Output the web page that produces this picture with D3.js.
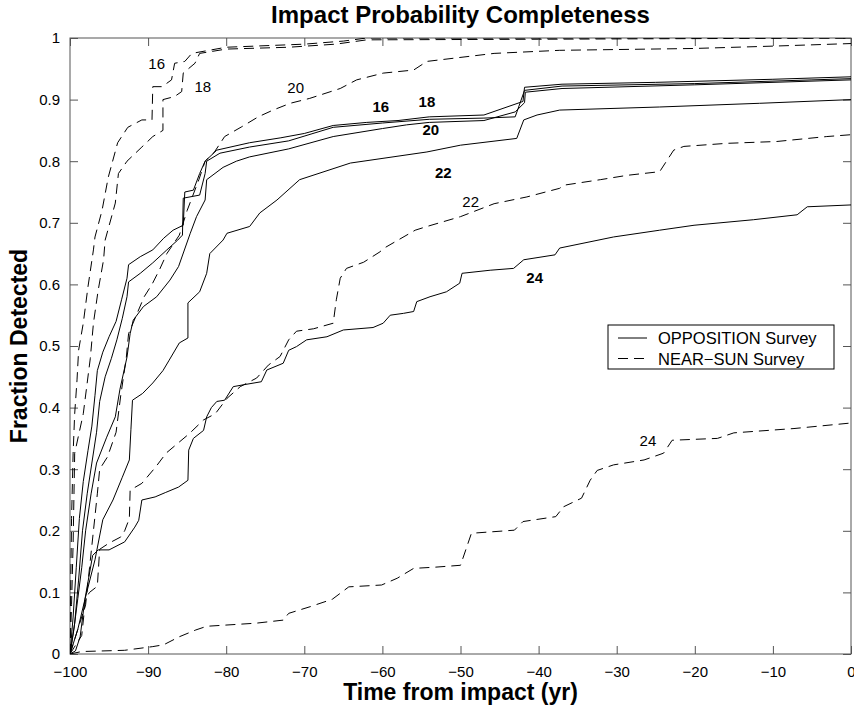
<!DOCTYPE html>
<html>
<head>
<meta charset="utf-8">
<script src="https://cdn.jsdelivr.net/npm/d3@7"></script>
<style>
  body { margin: 0; background: #fff; }
  svg { display: block; font-family: "Liberation Sans", Arial, Helvetica, sans-serif; }
</style>
</head>
<body>
<svg id="chart"></svg>
<script>
// ticks
let xTicks = [-100, -90, -80, -70, -60, -50, -40, -30, -20, -10, 0];
let yTicks = [0, 0.1, 0.2, 0.3, 0.4, 0.5, 0.6, 0.7, 0.8, 0.9, 1];

// OPPOSITION survey, [years before impact, fraction detected]
let opp16 = [[-100,0],[-99.6,0.06],[-99.2,0.14],[-98.8,0.22],[-98.3,0.28],[-97.7,0.33],[-97.2,0.37],[-96.8,0.42],[-96.5,0.46],[-95.8,0.49],[-95,0.515],[-94.1,0.54],[-93.4,0.575],[-92.7,0.61],[-92.5,0.632],[-91,0.645],[-89.4,0.656],[-88,0.675],[-86.8,0.688],[-85.5,0.696],[-85.3,0.75],[-84.2,0.753],[-83.4,0.78],[-82.7,0.8],[-81.2,0.818],[-77,0.83],[-73,0.838],[-70,0.845],[-66.3,0.858],[-62,0.863],[-58,0.866],[-54,0.872],[-47,0.875],[-42,0.897],[-41.8,0.92],[-37,0.925],[-25,0.928],[-10,0.933],[0,0.937]];
let opp18 = [[-100,0],[-99.4,0.05],[-98.9,0.12],[-98.4,0.2],[-97.8,0.26],[-97.2,0.31],[-96.6,0.36],[-96.2,0.41],[-95.5,0.45],[-94.7,0.48],[-94,0.51],[-93.3,0.545],[-92.7,0.58],[-92.5,0.604],[-91,0.618],[-89.4,0.635],[-87.6,0.656],[-86.2,0.672],[-85.6,0.68],[-85.5,0.74],[-83.4,0.745],[-82.7,0.78],[-82.5,0.8],[-80.8,0.813],[-77,0.823],[-72,0.833],[-66.3,0.855],[-60,0.862],[-54,0.868],[-47,0.87],[-43,0.872],[-41.8,0.915],[-37,0.922],[-20,0.926],[-5,0.932],[0,0.934]];
let opp20 = [[-100,0],[-99.5,0.04],[-99,0.09],[-98.5,0.14],[-98,0.2],[-97.3,0.26],[-96.6,0.31],[-95.3,0.352],[-94.2,0.385],[-93.6,0.43],[-92.7,0.482],[-92.3,0.52],[-91.9,0.542],[-90.6,0.564],[-88.9,0.58],[-87.2,0.607],[-86.1,0.629],[-84.6,0.683],[-83.8,0.71],[-82.7,0.737],[-82.5,0.77],[-80.4,0.79],[-78.7,0.8],[-77,0.807],[-72,0.82],[-66.3,0.84],[-60,0.853],[-56.9,0.859],[-54,0.863],[-47,0.866],[-43,0.88],[-41.8,0.895],[-41.7,0.912],[-37,0.918],[-20,0.924],[0,0.932]];
let opp22 = [[-100,0],[-99,0.04],[-98.1,0.088],[-96.8,0.153],[-95.8,0.218],[-94.5,0.25],[-93.3,0.287],[-92.4,0.315],[-92.2,0.364],[-92,0.412],[-90.7,0.423],[-89.4,0.44],[-88.1,0.46],[-87.3,0.477],[-86,0.505],[-84.9,0.513],[-84.9,0.57],[-83.4,0.588],[-82.5,0.618],[-82.1,0.65],[-80.4,0.672],[-79.9,0.683],[-77,0.694],[-75.7,0.716],[-73.5,0.737],[-70.6,0.77],[-64.1,0.797],[-54.3,0.815],[-50,0.826],[-42.8,0.837],[-41.9,0.867],[-40.2,0.875],[-37.3,0.883],[-24.5,0.888],[-11.7,0.894],[0,0.9]];
let opp24 = [[-100,0],[-99.3,0.005],[-98.7,0.028],[-98.1,0.088],[-97.1,0.16],[-96.4,0.169],[-95,0.169],[-93,0.182],[-91.7,0.206],[-91.2,0.217],[-90.8,0.25],[-89.1,0.255],[-87.8,0.262],[-86.1,0.271],[-84.9,0.282],[-84.8,0.331],[-84.2,0.35],[-82.9,0.363],[-82.5,0.385],[-81.9,0.4],[-81.2,0.41],[-80.2,0.412],[-79.1,0.434],[-77.8,0.437],[-75.5,0.442],[-74.8,0.461],[-72.7,0.472],[-72,0.493],[-71,0.499],[-69.7,0.51],[-67.1,0.515],[-65,0.526],[-61.2,0.53],[-59.9,0.537],[-59,0.55],[-57.3,0.553],[-56,0.556],[-55.6,0.572],[-53.9,0.58],[-51.8,0.588],[-50.1,0.602],[-49.8,0.618],[-46.2,0.623],[-43.2,0.626],[-41.9,0.64],[-37.9,0.648],[-37.3,0.659],[-30.4,0.677],[-24.5,0.688],[-20.1,0.696],[-12.5,0.705],[-6.9,0.713],[-5.6,0.726],[0,0.729]];

// NEAR-SUN survey
let sun16 = [[-100,0],[-99.9,0.12],[-99.8,0.22],[-99.6,0.326],[-99.4,0.39],[-99.1,0.445],[-98.9,0.493],[-98.3,0.537],[-97.7,0.596],[-97,0.656],[-96.8,0.677],[-95.9,0.72],[-95.1,0.774],[-93.9,0.83],[-92.6,0.855],[-90.8,0.867],[-89.5,0.867],[-89.4,0.921],[-88.2,0.921],[-87,0.932],[-86.6,0.959],[-85.3,0.962],[-84.4,0.975],[-80,0.985],[-70,0.99],[-65,0.995],[-62,1],[0,1]];
let sun18 = [[-100,0],[-99.8,0.08],[-99.6,0.18],[-99.4,0.326],[-98.3,0.39],[-97.9,0.43],[-97.4,0.48],[-97,0.537],[-96.4,0.59],[-95.7,0.64],[-95.5,0.672],[-94.2,0.732],[-93.8,0.78],[-92.7,0.8],[-90.8,0.823],[-89.4,0.84],[-88.1,0.85],[-88.1,0.9],[-86.6,0.905],[-85.7,0.913],[-85.5,0.943],[-84,0.959],[-83.4,0.975],[-80,0.982],[-72,0.985],[-66,0.99],[-62,0.997],[-40,0.998],[0,1]];
let sun20 = [[-100,0],[-99,0.04],[-98,0.08],[-97.5,0.14],[-97,0.2],[-96.5,0.26],[-96.2,0.3],[-95.2,0.32],[-94.1,0.36],[-93.5,0.42],[-92.8,0.48],[-92.5,0.52],[-91.5,0.55],[-90.5,0.58],[-89.5,0.6],[-88.5,0.625],[-87.6,0.65],[-86,0.68],[-85,0.72],[-83.5,0.77],[-82.7,0.8],[-81.5,0.815],[-80.2,0.84],[-78,0.856],[-75.9,0.872],[-74,0.883],[-71.8,0.894],[-69.3,0.902],[-65.4,0.918],[-63.3,0.932],[-59.9,0.943],[-56,0.948],[-54.3,0.962],[-45.7,0.975],[-37.3,0.98],[-20.1,0.983],[-9.5,0.987],[0,0.991]];
let sun22 = [[-100,0],[-99.5,0.01],[-98.5,0.03],[-98,0.09],[-97.5,0.1],[-96.5,0.11],[-96.2,0.17],[-95,0.18],[-93.5,0.19],[-93,0.2],[-92.4,0.22],[-92.3,0.266],[-90.8,0.277],[-89,0.304],[-87.7,0.326],[-86.2,0.342],[-84.7,0.358],[-82.9,0.38],[-81.4,0.39],[-79.9,0.415],[-78.2,0.434],[-76.1,0.448],[-74.6,0.469],[-73.1,0.483],[-72,0.51],[-71,0.524],[-68.8,0.528],[-66.3,0.537],[-65.9,0.575],[-65.4,0.61],[-64.6,0.626],[-62.4,0.636],[-60.3,0.653],[-59.9,0.658],[-55.8,0.688],[-54.3,0.694],[-50,0.71],[-45.7,0.731],[-41.5,0.742],[-37.3,0.756],[-36.8,0.761],[-32.1,0.77],[-28.7,0.777],[-24.5,0.783],[-22.7,0.818],[-21.4,0.824],[-15.9,0.829],[-9.5,0.832],[-3.1,0.84],[0,0.843]];
let sun24 = [[-100,0],[-98.5,0.004],[-93,0.006],[-89.4,0.012],[-88,0.015],[-86,0.028],[-83.9,0.039],[-82.5,0.045],[-76.2,0.05],[-72.7,0.055],[-72,0.066],[-69.2,0.077],[-66.4,0.089],[-64.3,0.109],[-60.1,0.112],[-58.1,0.123],[-56,0.139],[-53.2,0.141],[-50,0.144],[-48.6,0.196],[-43.1,0.201],[-42,0.215],[-37.8,0.223],[-36.8,0.239],[-34.5,0.253],[-33.4,0.282],[-32.5,0.298],[-30.4,0.307],[-26.5,0.315],[-24,0.326],[-22.9,0.347],[-17.1,0.35],[-15,0.359],[-7.3,0.366],[0,0.375]];

// curve labels: magnitude, survey, position in data units
let labelMags = ["16", "18", "20", "16", "18", "20", "22", "22", "24", "24"];
let labelSurvey = ["sun", "sun", "sun", "opp", "opp", "opp", "opp", "sun", "opp", "sun"];
let labelT = [-88.9, -83.0, -71.1, -60.2, -54.3, -53.8, -52.2, -48.7, -40.5, -26.0];
let labelF = [0.950, 0.913, 0.911, 0.880, 0.888, 0.843, 0.772, 0.726, 0.602, 0.337];

let series = [
  { survey: "opp", pts: opp16 }, { survey: "opp", pts: opp18 }, { survey: "opp", pts: opp20 },
  { survey: "opp", pts: opp22 }, { survey: "opp", pts: opp24 },
  { survey: "sun", pts: sun16 }, { survey: "sun", pts: sun18 }, { survey: "sun", pts: sun20 },
  { survey: "sun", pts: sun22 }, { survey: "sun", pts: sun24 }
];

let width = 854, height = 712;
let mLeft = 70, mRight = 851, mTop = 38, mBottom = 654;
let dash = "10,6";

let svg = d3.select("#chart").attr("width", width).attr("height", height);

let x = d3.scaleLinear().domain([-100, 0]).range([mLeft, mRight]);
let y = d3.scaleLinear().domain([0, 1]).range([mBottom, mTop]);

svg.append("defs").append("clipPath").attr("id", "plot")
  .append("rect").attr("x", mLeft).attr("y", mTop).attr("width", mRight - mLeft).attr("height", mBottom - mTop);

// axes, ticks inward like matlab
let fmt = d3.format("");
svg.append("g").attr("class", "x-axis")
  .attr("transform", `translate(0, ${mBottom})`)
  .call(d3.axisBottom(x).tickValues(xTicks).tickFormat(fmt).tickSizeInner(-8).tickSizeOuter(0).tickPadding(12));
svg.append("g").attr("class", "x-top")
  .attr("transform", `translate(0, ${mTop})`)
  .call(d3.axisTop(x).tickValues(xTicks).tickFormat("").tickSizeInner(-8).tickSizeOuter(0));
svg.append("g").attr("class", "y-axis")
  .attr("transform", `translate(${mLeft}, 0)`)
  .call(d3.axisLeft(y).tickValues(yTicks).tickFormat(fmt).tickSizeInner(-8).tickSizeOuter(0).tickPadding(10));
svg.append("g").attr("class", "y-right")
  .attr("transform", `translate(${mRight}, 0)`)
  .call(d3.axisRight(y).tickValues(yTicks).tickFormat("").tickSizeInner(-8).tickSizeOuter(0));

svg.selectAll(".domain").remove();
svg.selectAll(".tick line").attr("stroke", "#555");
svg.selectAll(".tick text").attr("fill", "#000").style("font-size", "15px")
  .style("font-family", "'Liberation Sans', Arial, sans-serif");

svg.append("rect")
  .attr("x", mLeft).attr("y", mTop).attr("width", mRight - mLeft).attr("height", mBottom - mTop)
  .attr("fill", "none").attr("stroke", "#555").attr("stroke-width", 1);

// curves
let line = d3.line().x(d => x(d[0])).y(d => y(d[1]));
svg.append("g").attr("clip-path", "url(#plot)")
  .selectAll("path.curve")
  .data(series)
  .enter()
  .append("path")
  .attr("class", "curve")
  .attr("d", d => line(d.pts))
  .attr("fill", "none")
  .attr("stroke", "#000")
  .attr("stroke-width", 1)
  .attr("stroke-dasharray", d => d.survey === "sun" ? dash : null);

// curve labels
svg.selectAll("text.mag")
  .data(labelMags)
  .enter()
  .append("text")
  .attr("class", "mag")
  .attr("x", (d, i) => x(labelT[i]))
  .attr("y", (d, i) => y(labelF[i]))
  .attr("text-anchor", "middle")
  .style("font-size", "15px")
  .style("font-weight", (d, i) => labelSurvey[i] === "opp" ? "bold" : "normal")
  .text(d => d);

// legend
let lg = svg.append("g").attr("transform", "translate(608, 325)");
lg.append("rect").attr("width", 226).attr("height", 44)
  .attr("fill", "#fff").attr("stroke", "#000").attr("stroke-width", 1);
let legendItems = [{ name: "OPPOSITION Survey", survey: "opp" }, { name: "NEAR−SUN Survey", survey: "sun" }];
legendItems.forEach((item, i) => {
  let yy = 13 + i * 20.5;
  lg.append("line").attr("x1", 10).attr("x2", 39).attr("y1", yy).attr("y2", yy)
    .attr("stroke", "#000").attr("stroke-dasharray", item.survey === "sun" ? dash : null);
  lg.append("text").attr("x", 50).attr("y", yy + 6)
    .style("font-size", "16.5px").text(item.name);
});

// titles
svg.append("text").attr("x", (mLeft + mRight) / 2).attr("y", 23)
  .attr("text-anchor", "middle").style("font-size", "24px").style("font-weight", "bold")
  .text("Impact Probability Completeness");
svg.append("text").attr("x", (mLeft + mRight) / 2).attr("y", 700)
  .attr("text-anchor", "middle").style("font-size", "23px").style("font-weight", "bold")
  .text("Time from impact (yr)");
svg.append("text").attr("transform", `translate(27, ${(mTop + mBottom) / 2}) rotate(-90)`)
  .attr("text-anchor", "middle").style("font-size", "23px").style("font-weight", "bold")
  .text("Fraction Detected");
</script>
</body>
</html>
